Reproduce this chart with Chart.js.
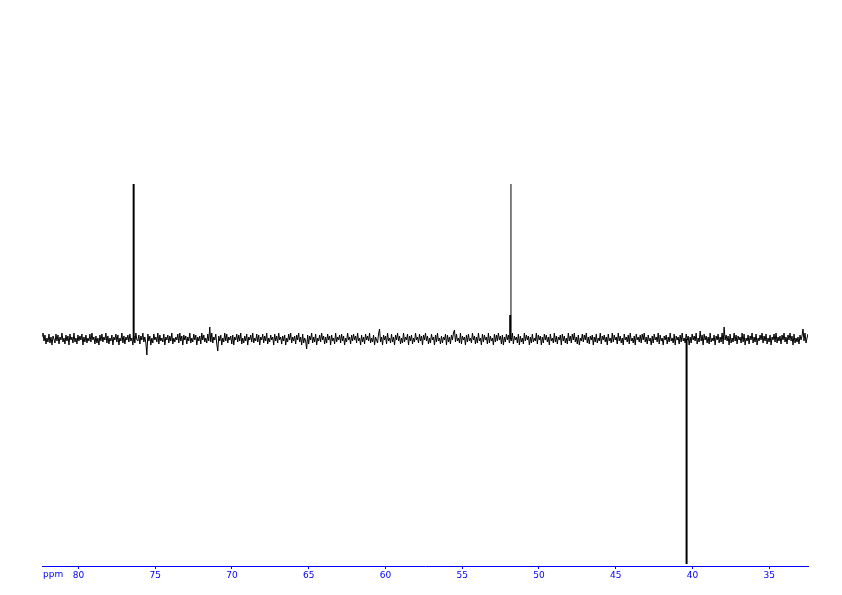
<!DOCTYPE html>
<html>
<head>
<meta charset="utf-8">
<script src="https://cdn.jsdelivr.net/npm/chart.js@4/dist/chart.umd.min.js"></script>
<style>
  html, body { margin:0; padding:0; background:#fff; }
  #wrap { width:842px; height:595px; }
</style>
</head>
<body>
<div id="wrap"><canvas id="spec" width="842" height="595"></canvas></div>
<script>
// spectrum window (ppm, left -> right)
const ppmStart = 82.37;
const ppmEnd = 32.47;
const tickValues = [80, 75, 70, 65, 60, 55, 50, 45, 40, 35];

// peaks
const peakPpm = [76.40, 51.87, 51.82, 40.38];
const peakHeight = [155, 24, 155, -225];

// baseline noise, evenly sampled across the window (about one per pixel)
const noise = [
  3,6,-2,4,-5,1,-3,5,-4,2,-6,3,0,-4,5,-2,4,-5,2,-1,6,-3,1,-5,
  4,-2,3,-6,5,-1,2,-4,6,-3,1,-5,4,-2,3,-1,5,-6,2,-3,4,-4,1,-2,
  5,-3,6,-1,2,-5,3,-4,1,-6,4,-2,5,-3,2,-1,6,-4,3,-5,1,-2,4,-6,
  2,-1,5,-3,4,-6,1,-2,6,-4,3,-5,2,-1,4,-3,5,-2,1,-6,3,-4,6,-1,
  -2,4,-5,3,-1,6,-3,2,-4,-16,5,-2,3,-6,1,-4,5,-1,2,-3,6,-5,4,-2,
  1,-3,5,-6,2,-1,4,-4,3,-2,6,-5,1,-3,2,-1,5,-4,6,-2,3,-6,4,-1,
  3,-5,2,-2,6,-4,1,-3,5,-1,4,-6,2,-2,3,-5,6,-1,4,-3,1,-4,5,-2,
  12,-3,6,-4,2,-1,5,-5,-12,3,-2,4,-6,1,-3,6,-2,5,-4,2,-1,3,-5,4,
  -6,2,-1,5,-3,4,-2,6,-5,1,-4,3,-2,5,-6,2,-1,4,-3,6,-4,1,-2,5,
  -3,4,-6,2,-1,5,-4,3,-2,6,-5,1,-3,4,-1,2,-6,5,-2,3,-4,6,-1,2,
  -5,3,-2,4,-6,1,-3,5,-1,6,-4,2,-2,3,-5,4,-1,6,-3,2,-6,5,-4,1,
  -2,-10,4,-5,3,-1,6,-4,2,-3,5,-6,1,-2,4,-3,6,-1,3,-5,2,-4,5,-1,
  3,-6,4,-2,1,-5,6,-3,2,-1,4,-4,5,-2,3,-6,1,-3,6,-1,2,-5,4,-2,
  5,-1,3,-4,6,-2,1,-6,4,-3,2,-5,5,-1,3,-2,6,-4,1,-3,4,-6,2,-1,
  -4,5,10,-3,2,-6,4,-1,3,-5,6,-2,1,-4,5,-3,2,-6,4,-1,6,-2,3,-5,
  1,-4,6,-3,2,-1,5,-6,3,-2,4,-5,1,-3,6,-1,2,-4,5,-2,3,-6,4,-1,
  6,-2,3,-5,1,-4,5,-1,2,-6,4,-3,6,-2,1,-5,3,-4,2,-1,5,-6,4,-3,
  2,-5,4,-1,6,9,-3,5,-2,1,-4,6,-5,3,-1,2,-6,4,-3,5,-2,1,-4,6,
  -1,3,-5,2,-4,6,-2,1,-6,5,-3,4,-1,2,-5,6,-4,3,-2,1,-6,5,-3,4,
  -2,6,-1,3,-5,4,-6,2,-3,5,-1,4,-4,1,-2,6,-5,3,-1,2,-4,5,-6,3,
  -3,1,-5,6,-2,4,-1,3,-6,2,-4,5,-3,1,-2,6,-5,4,-1,3,-6,2,-4,5,
  -1,4,-3,2,-6,5,-2,1,-4,6,-3,3,-5,2,-1,4,-6,5,-2,3,-4,1,-5,6,
  -2,3,-4,5,-1,6,-3,2,-5,4,-6,1,-2,5,-3,4,-1,6,-4,2,-5,3,-1,4,
  -6,2,-3,5,-4,1,-2,6,-5,3,-1,4,-3,2,-6,5,-2,1,-4,6,-3,4,-1,2,
  -5,6,-2,3,-4,1,-6,5,-1,2,-3,4,-5,6,-2,1,-4,3,-6,5,-1,2,-3,4,
  -4,5,-1,6,-3,2,-5,4,-2,1,-6,3,-4,5,-1,2,-3,6,-5,4,-2,1,-6,3,
  -1,4,-5,2,-3,6,-2,1,-4,5,-6,3,-1,2,-5,4,-3,6,-2,1,-4,5,-1,3,
  -6,2,-4,5,-1,3,-2,6,-5,1,-3,8,-2,4,-6,5,-1,3,-4,2,-5,6,-3,1,
  -2,4,-6,3,-1,5,-4,2,-3,6,-5,12,-1,4,-2,3,-6,5,-4,1,-3,6,-2,4,
  -5,3,-1,2,-4,6,-3,5,-6,1,-2,4,-5,3,-1,6,-4,2,-3,5,-6,1,-2,4,
  -1,6,-4,3,-2,5,-5,1,-3,4,-6,2,-1,5,-3,6,-4,2,-2,3,-5,4,-1,6,
  -3,2,-5,4,-1,6,-2,3,-6,5,-4,1,-3,2,-5,4,-1,3,10,-2,6,-4,1,5
];

const BLUE = '#0000ff';
const step = (ppmStart - ppmEnd) / (noise.length - 1);
const noisePts = noise.map((v, i) => ({ x: ppmStart - i * step, y: v }));

const peakWidths = [2, 2, 1, 2];
const peakSets = peakPpm.map((p, i) => ({
  data: [{ x: p, y: 0 }, { x: p, y: peakHeight[i] }],
  borderColor: '#000', borderWidth: peakWidths[i], pointRadius: 0, tension: 0
}));

// "ppm" unit label at the left end of the axis
const ppmLabel = {
  id: 'ppmLabel',
  afterDraw(chart){
    const ctx = chart.ctx, ca = chart.chartArea;
    ctx.save();
    ctx.fillStyle = BLUE;
    ctx.font = '9px "DejaVu Sans"';
    ctx.textBaseline = 'middle';
    ctx.textAlign = 'left';
    ctx.fillText('ppm', ca.left + 1, ca.bottom + 9);
    ctx.restore();
  }
};

new Chart(document.getElementById('spec'), {
  type: 'line',
  data: {
    datasets: [
      { data: noisePts, borderColor: '#000', borderWidth: 1, pointRadius: 0, tension: 0 },
      ...peakSets
    ]
  },
  options: {
    responsive: false,
    animation: false,
    events: [],
    layout: { padding: { left: 42, right: 34, top: 0, bottom: 0 } },
    plugins: { legend: { display: false }, tooltip: { enabled: false } },
    scales: {
      x: {
        type: 'linear',
        reverse: true,
        min: ppmEnd,
        max: ppmStart,
        afterBuildTicks: s => { s.ticks = tickValues.map(v => ({ value: v })); },
        afterFit: s => { s.height = 29; },
        border: { display: true, color: BLUE, width: 1 },
        grid: { display: true, drawOnChartArea: false, drawTicks: true, tickLength: 3, color: BLUE },
        ticks: {
          color: BLUE,
          font: { family: 'DejaVu Sans', size: 9 },
          padding: 1,
          maxRotation: 0,
          autoSkip: false
        }
      },
      y: { display: false, min: -227, max: 339 }
    }
  },
  plugins: [ppmLabel]
});
</script>
</body>
</html>
